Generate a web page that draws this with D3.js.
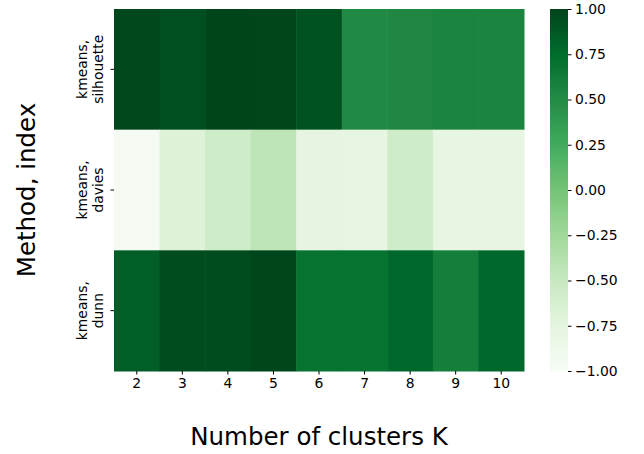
<!DOCTYPE html>
<html><head><meta charset="utf-8">
<script src="https://cdn.jsdelivr.net/npm/d3@7"></script>
<style>body{margin:0;background:#fff;} text{font-family:"DejaVu Sans",sans-serif;}</style>
</head><body>
<svg id="c" width="644" height="454"></svg>
<script>
const kValues = ["2","3","4","5","6","7","8","9","10"];
const rowLabels = [["kmeans,","silhouette"],["kmeans,","davies"],["kmeans,","dunn"]];
const rowKeys = ["silhouette","davies","dunn"];
const silhouette = [0.98, 0.93, 1.00, 0.99, 0.91, 0.52, 0.53, 0.56, 0.56];
const davies = [-0.97, -0.69, -0.56, -0.44, -0.76, -0.77, -0.56, -0.77, -0.78];
const dunn = [0.84, 0.95, 0.95, 0.99, 0.70, 0.70, 0.78, 0.61, 0.78];
const cbTicks = [-1.00,-0.75,-0.50,-0.25,0.00,0.25,0.50,0.75,1.00];
const greens = ["#f7fcf5","#e5f5e0","#c7e9c0","#a1d99b","#74c476","#41ab5d","#238b45","#006d2c","#00441b"];

const series = [silhouette, davies, dunn];
const svg = d3.select("#c");
const L=114, R=524, T=9, B=371;
const x = d3.scaleBand().domain(kValues).range([L,R]);
const y = d3.scaleBand().domain(rowKeys).range([T,B]);
const color = d3.scaleLinear().domain(d3.range(9).map(i=>-1+i*0.25)).range(greens)
  .interpolate(d3.interpolateRgb).clamp(true);

const cells = [];
rowKeys.forEach((r,i)=>kValues.forEach((k,j)=>cells.push({r,k,v:series[i][j]})));
svg.append("g").selectAll("rect").data(cells).join("rect")
  .attr("x",d=>x(d.k)).attr("y",d=>y(d.r))
  .attr("width",x.bandwidth()+0.5).attr("height",y.bandwidth()+0.5)
  .attr("fill",d=>color(d.v));

const xa = svg.append("g").attr("transform",`translate(0,${B})`)
  .call(d3.axisBottom(x).tickSize(3.5).tickPadding(3.5));
xa.select(".domain").remove();
xa.selectAll("text").attr("font-size",13.9).attr("fill","#000").attr("font-family","DejaVu Sans");
xa.selectAll("line").attr("stroke","#000");

const ya = svg.append("g").attr("transform",`translate(${L},0)`)
  .call(d3.axisLeft(y).tickSize(3.5).tickFormat(""));
ya.select(".domain").remove();
ya.selectAll("line").attr("stroke","#000");
rowKeys.forEach((r,i)=>{
  const cy = y(r)+y.bandwidth()/2;
  const t = svg.append("text").attr("transform",`translate(${L-6},${cy}) rotate(-90)`)
    .attr("text-anchor","middle").attr("font-size",13.9).attr("fill","#000");
  t.append("tspan").attr("x",0).attr("y",-21).text(rowLabels[i][0]);
  t.append("tspan").attr("x",0).attr("y",-5).text(rowLabels[i][1]);
});

svg.append("text").attr("x",(L+R)/2).attr("y",445).attr("text-anchor","middle")
  .attr("font-size",24.5).attr("fill","#000").text("Number of clusters K");
svg.append("text").attr("transform",`translate(35,${(T+B)/2}) rotate(-90)`)
  .attr("text-anchor","middle").attr("font-size",24.5).attr("fill","#000").text("Method, index");

const cbL=550, cbR=568;
const cy = d3.scaleLinear().domain([-1,1]).range([B,T]);
const defs = svg.append("defs");
const grad = defs.append("linearGradient").attr("id","g").attr("x1",0).attr("y1",1).attr("x2",0).attr("y2",0);
d3.range(0,1.0001,0.025).forEach(t=>grad.append("stop").attr("offset",t).attr("stop-color",color(-1+2*t)));
svg.append("rect").attr("x",cbL).attr("y",T).attr("width",cbR-cbL).attr("height",B-T).attr("fill","url(#g)");
const ca = svg.append("g").attr("transform",`translate(${cbR},0)`)
  .call(d3.axisRight(cy).tickValues(cbTicks).tickSize(3.5).tickPadding(3.5)
    .tickFormat(d=>d3.format(".2f")(d).replace("-","\u2212")));
ca.select(".domain").remove();
ca.selectAll("text").attr("font-size",13.9).attr("fill","#000").attr("font-family","DejaVu Sans");
ca.selectAll("line").attr("stroke","#000");
</script>
</body></html>
